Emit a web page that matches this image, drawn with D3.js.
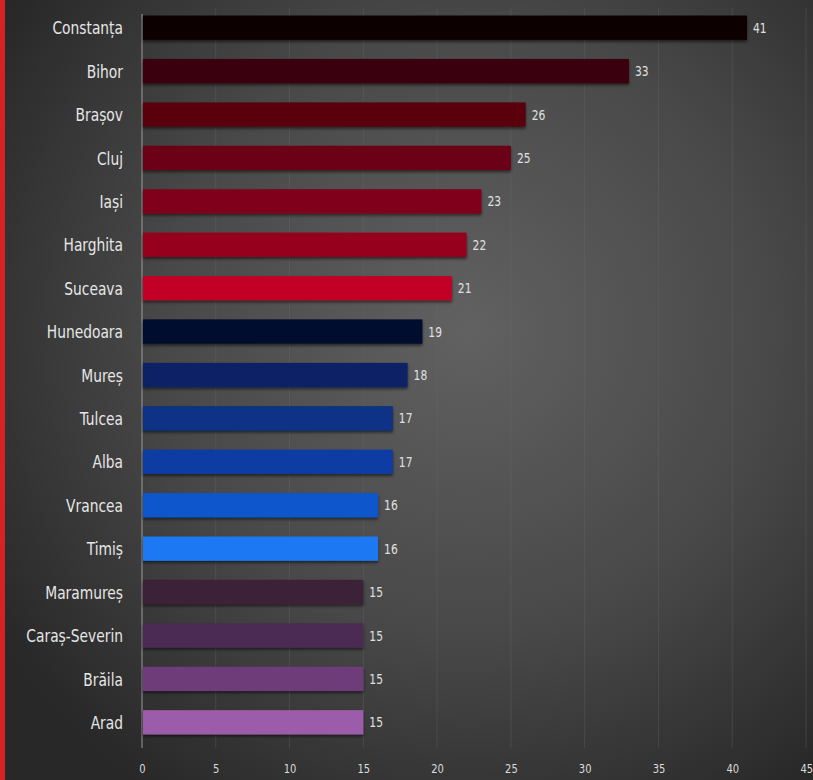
<!DOCTYPE html>
<html><head><meta charset="utf-8">
<script src="https://cdn.jsdelivr.net/npm/d3@7"></script>
<style>html,body{margin:0;padding:0;background:#333;}svg{display:block;}</style>
</head><body>
<svg id="c" width="813" height="780"></svg>
<script>
const categories = ["Constanța","Bihor","Brașov","Cluj","Iași","Harghita","Suceava","Hunedoara","Mureș","Tulcea","Alba","Vrancea","Timiș","Maramureș","Caraș-Severin","Brăila","Arad"];
const values = [41,33,26,25,23,22,21,19,18,17,17,16,16,15,15,15,15];
const barColors = ["#0b0104","#3a0009","#5a0011","#6c0015","#80001a","#96001f","#c20026","#030b2d","#0a2466","#093086","#0b3ca3","#0e56cc","#1b78f3","#3b2239","#4b2b53","#6e3d79","#9b5ba9"];
const ticks = [0,5,10,15,20,25,30,35,40,45];

const W = 813, H = 780;
const svg = d3.select("#c");
const defs = svg.append("defs");
const rg = defs.append("radialGradient").attr("id","bg").attr("gradientUnits","userSpaceOnUse")
  .attr("cx",470).attr("cy",330).attr("r",560);
rg.append("stop").attr("offset","0").attr("stop-color","#616161");
rg.append("stop").attr("offset","0.55").attr("stop-color","#484848");
rg.append("stop").attr("offset","1").attr("stop-color","#282828");
const f = defs.append("filter").attr("id","sh").attr("x","-5%").attr("y","-30%").attr("width","110%").attr("height","170%");
f.append("feDropShadow").attr("dx",0).attr("dy",2).attr("stdDeviation",1.5).attr("flood-color","#000").attr("flood-opacity",0.55);

svg.append("rect").attr("width",W).attr("height",H).attr("fill","url(#bg)");
svg.append("rect").attr("x",0).attr("y",0).attr("width",5).attr("height",H).attr("fill","#d52222");

const x = d3.scaleLinear().domain([0,45]).range([142,806]);
const y = d3.scaleBand().domain(categories).range([6,744]).paddingInner(0.44).paddingOuter(0.22);

// gridlines
svg.append("g").selectAll("line").data(ticks.slice(1)).join("line")
  .attr("x1",d=>x(d)).attr("x2",d=>x(d)).attr("y1",8).attr("y2",748)
  .attr("stroke","#6a6a6a").attr("stroke-opacity",0.35).attr("stroke-width",1);
// axis line
svg.append("line").attr("x1",x(0)).attr("x2",x(0)).attr("y1",14).attr("y2",748)
  .attr("stroke","#9a9a9a").attr("stroke-width",1);

// bars
svg.append("g").selectAll("rect").data(categories).join("rect")
  .attr("x",x(0)+1).attr("y",d=>y(d)).attr("height",y.bandwidth())
  .attr("width",(d,i)=>x(values[i])-x(0)-1)
  .attr("fill",(d,i)=>barColors[i]).attr("filter","url(#sh)");

const font = "'DejaVu Sans Condensed','Open Sans',sans-serif";
// category labels (horizontally compressed, like the narrow original face)
svg.append("g").selectAll("text").data(categories).join("text")
  .attr("transform",d=>`translate(123,${y(d)+y.bandwidth()/2}) scale(0.83,1)`)
  .attr("dy","0.36em")
  .attr("text-anchor","end").attr("fill","#e6e6e6").attr("font-family",font).attr("font-size",18.5)
  .text(d=>d);
// value labels
svg.append("g").selectAll("text").data(categories).join("text")
  .attr("transform",(d,i)=>`translate(${x(values[i])+6},${y(d)+y.bandwidth()/2}) scale(0.85,1)`)
  .attr("dy","0.36em")
  .attr("fill","#e0e0e0").attr("font-family",font).attr("font-size",14)
  .text((d,i)=>values[i]);
// ticks
const ax = svg.append("g").attr("transform","translate(0,768)").call(d3.axisBottom(x).tickValues(ticks).tickSize(0).tickPadding(0));
ax.select(".domain").remove();
ax.selectAll("text").attr("fill","#dcdcdc").attr("font-family",font).attr("font-size",13).attr("dy","0.35em")
  .attr("x",0).attr("y",0).attr("transform","scale(0.85,1)")
  .attr("text-anchor",d=>d===45?"end":"middle")
  .attr("dx",d=>d===45?"0.6em":null);
</script>
</body></html>
